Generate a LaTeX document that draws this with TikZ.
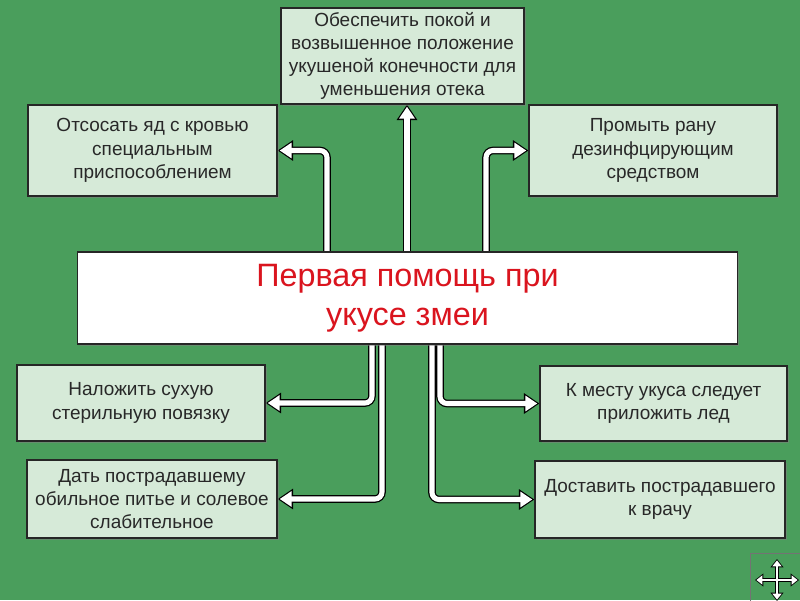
\documentclass[tikz,border=0pt]{standalone}
\usepackage{fontspec}
\setmainfont{Liberation Sans}
\usetikzlibrary{arrows.meta,positioning,shadows}
\definecolor{slidegreen}{RGB}{74,158,92}
\definecolor{mintbox}{RGB}{214,234,216}
\definecolor{boxtext}{RGB}{40,40,40}
\definecolor{titlered}{RGB}{218,20,30}
\pgfdeclarelayer{back}
\pgfdeclarelayer{links}
\pgfsetlayers{back,links,main}
\newcommand{\whitearrow}[2][]{%
  \draw[arrout,#1] #2;
  \draw[arrin,#1] #2;}

\begin{document}
\begin{tikzpicture}[x=0.025cm, y=-0.025cm,
  stepbox/.style={draw=black!85, line width=0.8pt, fill=mintbox, text=boxtext, align=center,
    font=\fontsize{13.5}{16.5}\selectfont, inner sep=2pt,
    drop shadow={shadow xshift=1.2pt, shadow yshift=-1.2pt, opacity=0.55}},
  arrout/.style={line width=5.4pt, black, rounded corners=5pt, -{Triangle[length=11pt,width=14pt]}},
  arrin/.style={line width=3.6pt, white, rounded corners=5pt, -{Triangle[length=8.4pt,width=10.6pt]}, shorten >=1.5pt}]
\useasboundingbox (0,0) rectangle (800,600);
\clip (0,0) rectangle (800,600);
\begin{pgfonlayer}{back}
\fill[slidegreen] (0,0) rectangle (800,600);
\end{pgfonlayer}

\node[stepbox, fill=white, text=titlered, font=\fontsize{23}{27.5}\selectfont, minimum width=16.475cm, minimum height=2.3cm] (main) at (407.5,298) {Первая помощь при\\укусе змеи};
\node[stepbox, minimum width=6.075cm, minimum height=2.4cm] (top) at (402.5,56) {Обеспечить покой и\\возвышенное положение\\укушеной конечности для\\уменьшения отека};
\node[stepbox, minimum width=6.225cm, minimum height=2.275cm] (suck) at (152.5,150.5) {Отсосать яд с кровью\\специальным\\приспособлением};
\node[stepbox, minimum width=6.2cm, minimum height=2.275cm] (wash) at (653,150.5) {Промыть рану\\дезинфцирующим\\средством};
\node[stepbox, minimum width=6.2cm, minimum height=1.9cm] (bandage) at (141,403) {Наложить сухую\\стерильную повязку};
\node[stepbox, minimum width=6.25cm, minimum height=1.95cm] (drink) at (152,499) {Дать пострадавшему\\обильное питье и солевое\\слабительное};
\node[stepbox, minimum width=6.175cm, minimum height=1.875cm] (ice) at (663.5,403.5) {К месту укуса следует\\приложить лед};
\node[stepbox, minimum width=6.25cm, minimum height=1.925cm] (doctor) at (660,499.5) {Доставить пострадавшего\\к врачу};

\begin{pgfonlayer}{links}
\whitearrow{(407,0 |- main.north) -- (407,0 |- top.south)}
\whitearrow{(327,0 |- main.north) |- (suck.east)}
\whitearrow{(486,0 |- main.north) |- (wash.west)}
\whitearrow{(372,0 |- main.south) |- (bandage.east)}
\whitearrow{(382,0 |- main.south) |- (drink.east)}
\whitearrow{(440,0 |- main.south) |- (ice.west)}
\whitearrow{(432,0 |- main.south) |- (doctor.west)}
\end{pgfonlayer}

% navigation pictogram
\node[draw=black!55, line width=0.6pt, minimum width=1.35cm, minimum height=1.35cm] (nav) at (777,580) {};
\foreach \dx/\dy in {0/-21, 0/21, -22/0, 22/0}
  \draw[arrout, line width=2.2pt, rounded corners=0pt, -{Triangle[length=6pt,width=9pt]}] (nav.center) -- ++(\dx,\dy);
\foreach \dx/\dy in {0/-21, 0/21, -22/0, 22/0}
  \draw[arrin, line width=1pt, rounded corners=0pt, -{Triangle[length=4.2pt,width=6.4pt]}, shorten >=1pt] (nav.center) -- ++(\dx,\dy);
\end{tikzpicture}
\end{document}
